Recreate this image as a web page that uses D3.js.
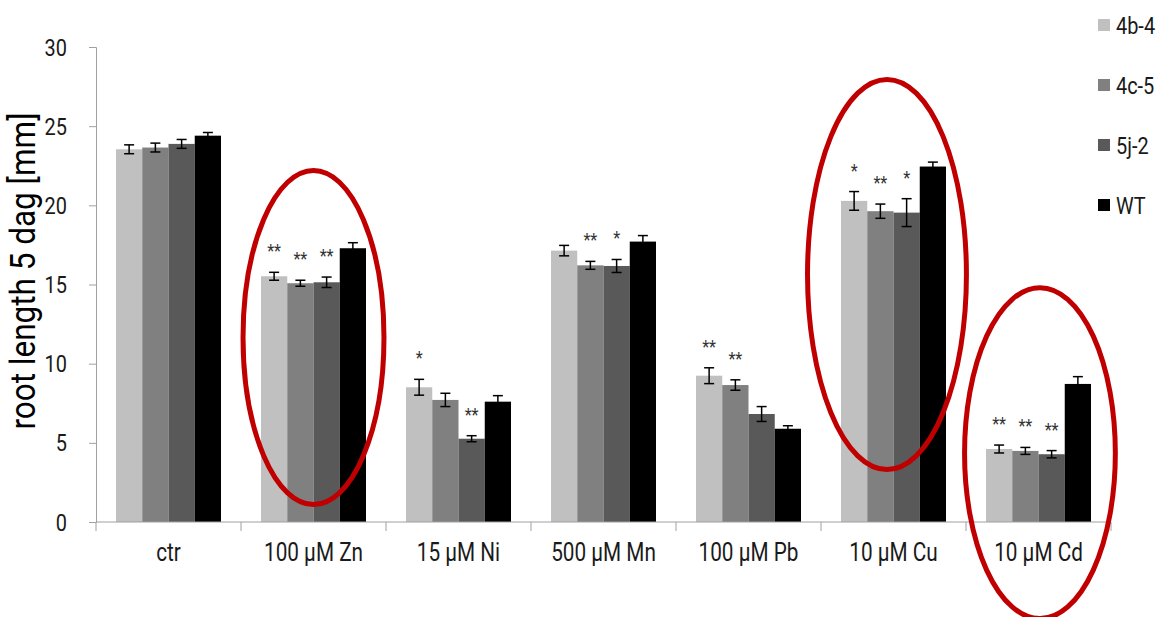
<!DOCTYPE html>
<html>
<head>
<meta charset="utf-8">
<script src="https://cdn.jsdelivr.net/npm/d3@7/dist/d3.min.js"></script>
<style>
  html, body { margin: 0; padding: 0; background: #fff; }
  svg { display: block; }
  text { font-family: Roboto, "Liberation Sans", Arial, sans-serif; }
</style>
</head>
<body>
<svg id="chart" width="1157" height="617"></svg>
<script>
// Root length after 5 days of growth under different metal treatments
const categories = ["ctr", "100 µM Zn", "15 µM Ni", "500 µM Mn", "100 µM Pb", "10 µM Cu", "10 µM Cd"];
const seriesNames = ["4b-4", "4c-5", "5j-2", "WT"];
const seriesColors = ["#c0c0c0", "#808080", "#595959", "#000000"];

// mean root length [mm]
const line4b4 = [23.54, 15.52, 8.51, 17.14, 9.24, 20.28, 4.61];
const line4c5 = [23.65, 15.08, 7.71, 16.21, 8.65, 19.63, 4.49];
const line5j2 = [23.88, 15.14, 5.26, 16.17, 6.82, 19.54, 4.28];
const lineWT  = [24.40, 17.29, 7.60, 17.71, 5.89, 22.45, 8.72];

// standard error
const err4b4 = [0.28, 0.25, 0.50, 0.33, 0.50, 0.59, 0.25];
const err4c5 = [0.28, 0.19, 0.42, 0.25, 0.33, 0.45, 0.22];
const err5j2 = [0.28, 0.33, 0.19, 0.41, 0.47, 0.88, 0.23];
const errWT  = [0.20, 0.35, 0.38, 0.38, 0.19, 0.28, 0.46];

// significance vs. WT
const sig4b4 = ["", "**", "*", "", "**", "*", "**"];
const sig4c5 = ["", "**", "", "**", "**", "**", "**"];
const sig5j2 = ["", "**", "**", "*", "", "*", "**"];
const sigWT  = ["", "", "", "", "", "", ""];

const yTicks = [0, 5, 10, 15, 20, 25, 30];

// highlighted treatment groups (centre/half-height in mm, half-width in category steps)
const highlightCats = ["100 µM Zn", "10 µM Cu", "10 µM Cd"];
const highlightMid = [11.65, 15.63, 4.35];
const highlightHalfY = [10.55, 12.32, 10.45];
const highlightHalfX = [0.486, 0.548, 0.52];
const highlightShift = [0.0, -0.045, 0.01];

const values = [line4b4, line4c5, line5j2, lineWT];
const errors = [err4b4, err4c5, err5j2, errWT];
const sigs = [sig4b4, sig4c5, sig5j2, sigWT];

const svg = d3.select("#chart");
const plotLeft = 96, plotRight = 1111, plotTop = 47, plotBottom = 522;
const narrow = 0.83;   // horizontal squeeze for a condensed look

const x = d3.scaleBand().domain(categories).range([plotLeft, plotRight]).paddingInner(0).paddingOuter(0);
const xs = d3.scaleBand().domain(seriesNames).range([20, 125]).padding(0);
const y = d3.scaleLinear().domain([0, 30]).range([plotBottom, plotTop]);

const axisColor = "#a0a0a0";
const textColor = "#1a1a1a";

// y axis line and ticks
const yAxis = svg.append("g").attr("transform", `translate(${plotLeft},0)`)
  .call(d3.axisLeft(y).tickValues(yTicks).tickSize(7).tickFormat(""));
yAxis.select(".domain").attr("stroke", axisColor).attr("stroke-width", 1);
yAxis.selectAll(".tick line").attr("stroke", axisColor);

// y tick labels
svg.append("g").selectAll("text").data(yTicks).join("text")
  .attr("transform", d => `translate(67,${y(d) + 8.5}) scale(${narrow},1)`)
  .attr("text-anchor", "end")
  .attr("font-size", 24)
  .attr("fill", textColor)
  .text(d => d);

// y axis title
svg.append("text")
  .attr("transform", `translate(35,271) rotate(-90) scale(0.9,1)`)
  .attr("text-anchor", "middle")
  .attr("font-size", 35)
  .attr("fill", "#000")
  .text("root length 5 dag [mm]");

// bars
const groups = svg.append("g").selectAll("g.cat").data(categories).join("g")
  .attr("class", "cat")
  .attr("transform", d => `translate(${x(d)},0)`);

seriesNames.forEach((s, si) => {
  groups.append("rect")
    .attr("x", xs(s))
    .attr("width", xs.bandwidth())
    .attr("y", (d, ci) => y(values[si][ci]))
    .attr("height", (d, ci) => y(0) - y(values[si][ci]))
    .attr("fill", seriesColors[si]);
});

// error bars
seriesNames.forEach((s, si) => {
  const cx = xs(s) + xs.bandwidth() / 2;
  const cap = 5;
  const eb = groups.append("g").attr("stroke", "#000").attr("stroke-width", 1.5).attr("fill", "none");
  eb.append("line")
    .attr("x1", cx).attr("x2", cx)
    .attr("y1", (d, ci) => y(values[si][ci] + errors[si][ci]))
    .attr("y2", (d, ci) => y(values[si][ci] - errors[si][ci]));
  eb.append("line")
    .attr("x1", cx - cap).attr("x2", cx + cap)
    .attr("y1", (d, ci) => y(values[si][ci] + errors[si][ci]))
    .attr("y2", (d, ci) => y(values[si][ci] + errors[si][ci]));
  eb.append("line")
    .attr("x1", cx - cap).attr("x2", cx + cap)
    .attr("y1", (d, ci) => y(values[si][ci] - errors[si][ci]))
    .attr("y2", (d, ci) => y(values[si][ci] - errors[si][ci]));
});

// significance stars
seriesNames.forEach((s, si) => {
  const cx = xs(s) + xs.bandwidth() / 2;
  groups.append("text")
    .attr("transform", (d, ci) => `translate(${cx},${y(values[si][ci] + errors[si][ci]) - 15}) scale(0.9,1)`)
    .attr("text-anchor", "middle")
    .attr("font-size", 18)
    .attr("fill", "#333")
    .text((d, ci) => sigs[si][ci]);
});

// x axis
const xAxis = svg.append("g").attr("transform", `translate(0,${plotBottom})`);
xAxis.append("line").attr("x1", plotLeft).attr("x2", plotRight).attr("y1", 0).attr("y2", 0)
  .attr("stroke", axisColor);
const tickPos = categories.map(c => x(c)).concat([plotRight]);
xAxis.selectAll("line.tk").data(tickPos).join("line").attr("class", "tk")
  .attr("x1", d => d).attr("x2", d => d).attr("y1", 0).attr("y2", 9)
  .attr("stroke", axisColor);
xAxis.selectAll("text").data(categories).join("text")
  .attr("transform", d => `translate(${x(d) + x.bandwidth() / 2},39) scale(${narrow},1)`)
  .attr("text-anchor", "middle")
  .attr("font-size", 25)
  .attr("fill", textColor)
  .text(d => d);

// highlight ellipses
svg.append("g").selectAll("ellipse").data(highlightCats).join("ellipse")
  .attr("cx", (d, i) => x(d) + x.bandwidth() * (0.5 + highlightShift[i]))
  .attr("cy", (d, i) => y(highlightMid[i]))
  .attr("rx", (d, i) => x.step() * highlightHalfX[i])
  .attr("ry", (d, i) => y(0) - y(highlightHalfY[i]))
  .attr("fill", "none")
  .attr("stroke", "#c00000")
  .attr("stroke-width", 5);

// legend
const legend = svg.append("g").selectAll("g").data(seriesNames).join("g")
  .attr("transform", (d, i) => `translate(1098,${25 + i * 60})`);
legend.append("rect").attr("x", 0).attr("y", -6).attr("width", 12).attr("height", 12)
  .attr("fill", (d, i) => seriesColors[i]);
legend.append("text")
  .attr("transform", `translate(18,8.5) scale(${narrow},1)`)
  .attr("font-size", 24).attr("fill", textColor)
  .text(d => d);
</script>
</body>
</html>
